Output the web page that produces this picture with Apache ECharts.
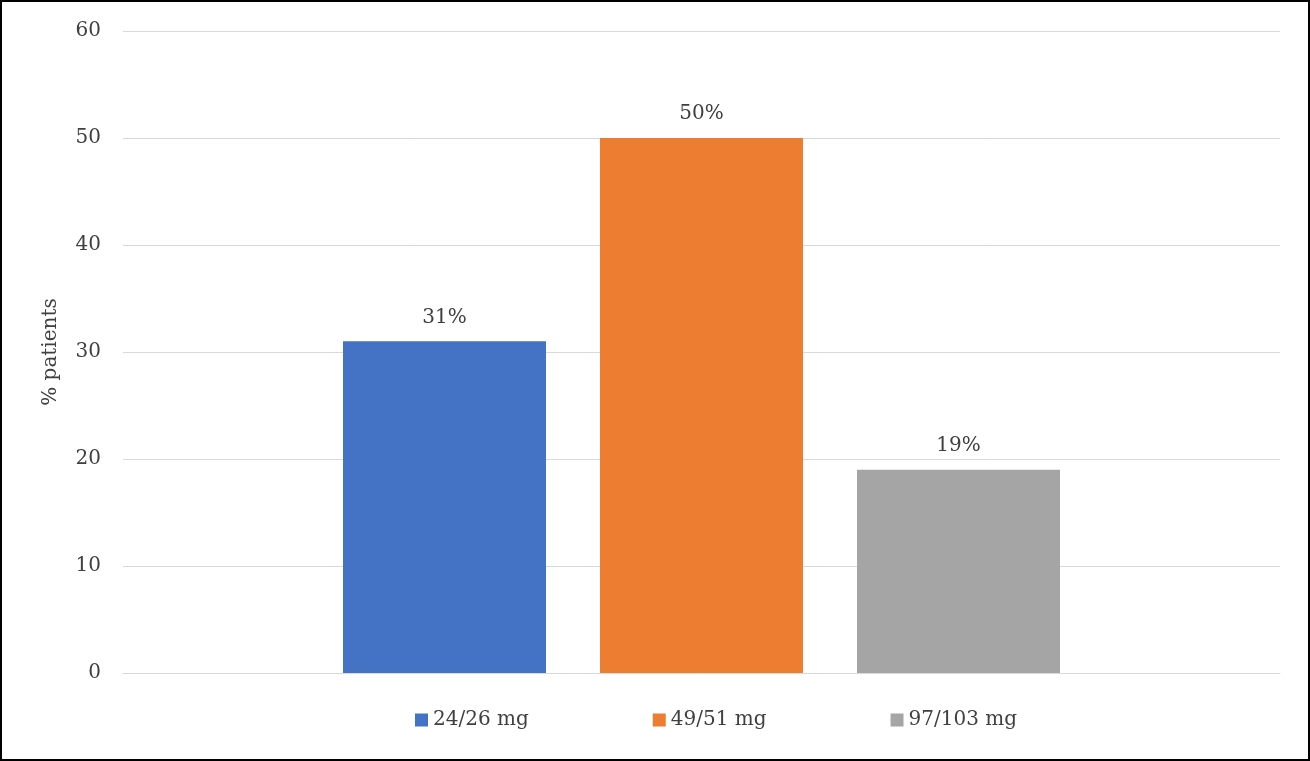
<!DOCTYPE html>
<html>
<head>
<meta charset="utf-8">
<script src="https://cdn.jsdelivr.net/npm/echarts@6/dist/echarts.min.js"></script>
<style>
  html, body { margin: 0; padding: 0; background: #fff; }
  #chart { width: 1310px; height: 761px; box-sizing: border-box; border: 2px solid #000; }
</style>
</head>
<body>
<div id="chart"></div>
<script>
// data
const categories = [""];
const seriesNames = ["24/26 mg", "49/51 mg", "97/103 mg"];
const seriesValues = [31, 50, 19];
const seriesColors = ["#4472c4", "#ed7d31", "#a5a5a5"];
const yTicks = { min: 0, max: 60, interval: 10 };

const font = "DejaVu Serif";
const textColor = "#404040";

const chart = echarts.init(document.getElementById("chart"), null, { renderer: "canvas" });

const series = seriesNames.map((name, i) => ({
  name: name,
  type: "bar",
  data: [seriesValues[i]],
  barWidth: 203,
  barGap: "26.6%",
  itemStyle: { color: seriesColors[i] },
  label: {
    show: true,
    position: "top",
    distance: 14,
    formatter: "{c}%",
    color: textColor,
    fontFamily: font,
    fontSize: 20,
  },
}));

chart.setOption({
  animation: false,
  textStyle: { fontFamily: font },
  grid: { left: 121, right: 28, top: 29, bottom: 86 },
  legend: {
    bottom: 24,
    left: 408,
    itemWidth: 13,
    itemHeight: 13,
    itemGap: 124,
    icon: "rect",
    textStyle: { color: textColor, fontFamily: font, fontSize: 20 },
    data: seriesNames,
  },
  xAxis: {
    type: "category",
    data: categories,
    axisLine: { show: true, lineStyle: { color: "#d9d9d9" } },
    axisTick: { show: false },
    axisLabel: { show: false },
  },
  yAxis: {
    type: "value",
    min: yTicks.min,
    max: yTicks.max,
    interval: yTicks.interval,
    name: "% patients",
    nameLocation: "middle",
    nameGap: 62,
    nameTextStyle: { color: textColor, fontFamily: font, fontSize: 20 },
    axisLine: { show: false },
    axisTick: { show: false },
    axisLabel: { color: textColor, fontFamily: font, fontSize: 20, margin: 22 },
    splitLine: { lineStyle: { color: "#d9d9d9", width: 1 } },
  },
  series: series,
});
</script>
</body>
</html>
